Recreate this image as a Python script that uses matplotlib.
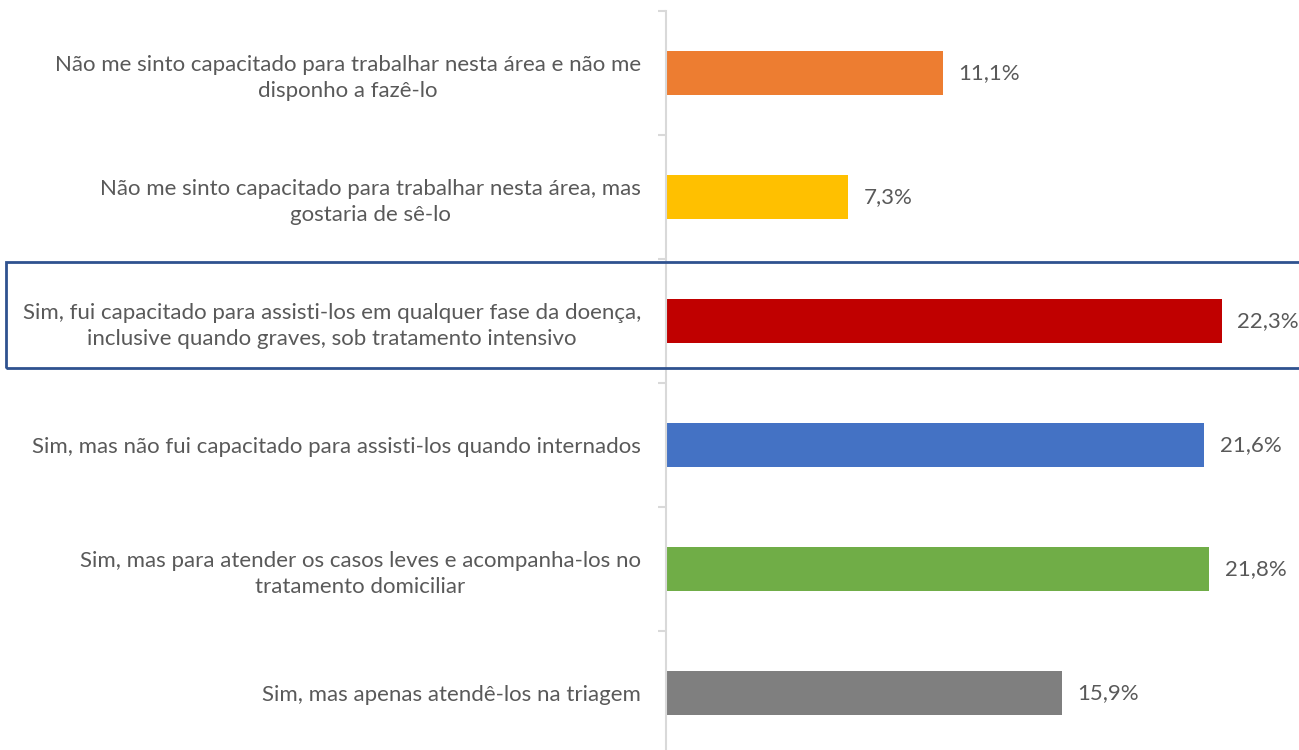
import matplotlib.pyplot as plt
from matplotlib.patches import Rectangle

categories = [
    "Não me sinto capacitado para trabalhar nesta área e não me\ndisponho a fazê-lo",
    "Não me sinto capacitado para trabalhar nesta área, mas\ngostaria de sê-lo",
    "Sim, fui capacitado para assisti-los em qualquer fase da doença,\ninclusive quando graves, sob tratamento intensivo",
    "Sim, mas não fui capacitado para assisti-los quando internados",
    "Sim, mas para atender os casos leves e acompanha-los no\ntratamento domiciliar",
    "Sim, mas apenas atendê-los na triagem",
]
values = [11.1, 7.3, 22.3, 21.6, 21.8, 15.9]
colors = ["#ED7D31", "#FFC000", "#C00000", "#4472C4", "#70AD47", "#7F7F7F"]

plt.rcParams['font.family'] = ['Lato', 'DejaVu Sans']
text_color = "#595959"

fig = plt.figure(figsize=(12.99, 7.5), dpi=100)
W, H = 1299, 750
ax = fig.add_axes([666 / W, 1 - 755 / H, 1 - 666 / W, (755 - 11) / H])

pos = list(range(len(categories)))
ax.barh(pos, values, height=0.355, color=colors)
ax.set_ylim(len(categories) - 0.5, -0.5)
ax.set_xlim(0, 633 / 24.93)

for p, v in zip(pos, values):
    ax.annotate(f"{v:.1f}%".replace(".", ","), (v, p), xytext=(11, 0),
                textcoords="offset points", va="center", ha="left",
                fontsize=16, color=text_color)

ax.set_yticks([p + 0.5 for p in [-1] + pos], minor=False)
ax.set_yticklabels([])
ax.tick_params(axis="y", length=6, color="#D9D9D9", width=1.5)
ax.set_yticks(pos, minor=True)
ax.set_yticklabels(categories, minor=True, fontsize=16, color=text_color,
                   multialignment="center", linespacing=1.4)
ax.tick_params(axis="y", which="minor", length=0, pad=18)
ax.set_xticks([])

for s in ["top", "right", "bottom"]:
    ax.spines[s].set_visible(False)
ax.spines["left"].set_color("#D9D9D9")
ax.spines["left"].set_linewidth(1.5)

# highlight box around the third category
fig.patches.append(Rectangle((6 / W, 1 - 368 / H), 1.0, (368 - 262) / H,
                             transform=fig.transFigure, fill=False,
                             edgecolor="#2F528F", linewidth=2))

fig.savefig("out.png", dpi=100)
